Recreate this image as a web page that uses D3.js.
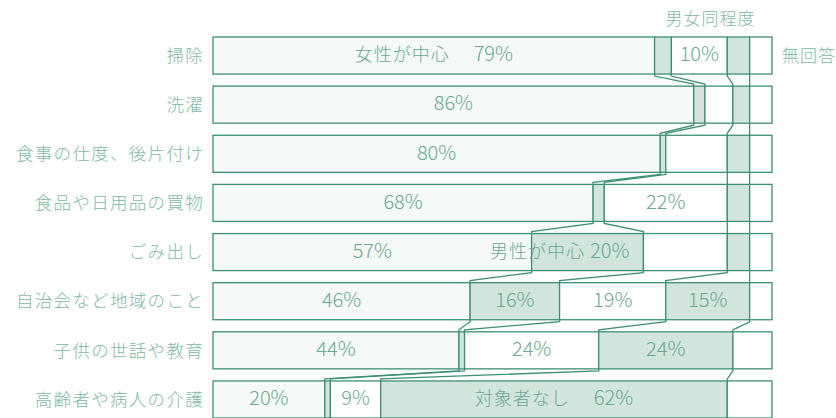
<!DOCTYPE html>
<html>
<head>
<meta charset="utf-8">
<script src="https://cdn.jsdelivr.net/npm/d3@7"></script>
<style>
  body { margin: 0; background: #fff; }
  text { font-family: "Noto Sans CJK JP", "Noto Sans", sans-serif; font-weight: 300; }
</style>
</head>
<body>
<div id="chart"></div>
<script>
// 家事の分担 (%)
var categories = ["掃除", "洗濯", "食事の仕度、後片付け", "食品や日用品の買物",
  "ごみ出し", "自治会など地域のこと", "子供の世話や教育", "高齢者や病人の介護"];
var seriesNames = ["女性が中心", "男性が中心", "男女同程度", "対象者なし", "無回答"];

var female   = [79, 86, 80, 68, 57, 46, 44, 20];
var male     = [3, 2, 1, 2, 20, 16, 1, 1];
var both     = [10, 5, 11, 22, 15, 19, 24, 9];
var none     = [4, 3, 4, 4, 4, 15, 24, 62];
var noAnswer = [4, 4, 4, 4, 4, 4, 7, 8];

// which segments get a printed value, and which carry the series name
// [row, series index, show name]
var shownLabels = [
  [0, 0, true], [0, 2, false],
  [1, 0, false],
  [2, 0, false],
  [3, 0, false], [3, 2, false],
  [4, 0, false], [4, 1, true],
  [5, 0, false], [5, 1, false], [5, 2, false], [5, 3, false],
  [6, 0, false], [6, 2, false], [6, 3, false],
  [7, 0, false], [7, 2, false], [7, 3, true]
];

var width = 836, height = 418;
var lineCol = "#3d8f76";
var textCol = "#6aa794";
var labelCol = "#80b8a8";
var fills = ["#f5f9f7", "#d2e5dd", "#ffffff", "#d2e5dd", "#ffffff"];

var series = [female, male, both, none, noAnswer];
var rows = categories.map(function(c, i) {
  var start = 0;
  var segs = series.map(function(s, k) {
    var seg = { k: k, x0: start, x1: start + s[i], v: s[i] };
    start += s[i];
    return seg;
  });
  return { name: c, i: i, segs: segs };
});

var svg = d3.select("#chart").append("svg")
  .attr("width", width)
  .attr("height", height);

svg.append("rect").attr("width", width).attr("height", height).attr("fill", "#fff");

var x = d3.scaleLinear().domain([0, 100]).range([213, 772]);
var y = d3.scaleBand().domain(categories).range([37, 418]).paddingInner(0.246).paddingOuter(0);
var bh = y.bandwidth();

// connector lines between bars
var links = [];
for (var i = 0; i < rows.length - 1; i++) {
  for (var k = 0; k < 4; k++) {
    links.push({
      xa: x(rows[i].segs[k].x1), ya: y(rows[i].name) + bh,
      xb: x(rows[i + 1].segs[k].x1), yb: y(rows[i + 1].name)
    });
  }
}
svg.append("g").selectAll("path")
  .data(links)
  .enter().append("path")
  .attr("d", function(d) {
    return "M" + d.xa + "," + d.ya + "L" + d.xa + "," + (d.ya + 2) +
      "L" + d.xb + "," + (d.yb - 2) + "L" + d.xb + "," + d.yb;
  })
  .attr("fill", "none")
  .attr("stroke", lineCol)
  .attr("stroke-width", 1.3);

var row = svg.append("g").selectAll("g")
  .data(rows)
  .enter().append("g")
  .attr("transform", function(d) { return "translate(0," + y(d.name) + ")"; });

row.selectAll("rect")
  .data(function(d) { return d.segs; })
  .enter().append("rect")
  .attr("x", function(d) { return x(d.x0); })
  .attr("width", function(d) { return x(d.x1) - x(d.x0); })
  .attr("y", 0)
  .attr("height", bh)
  .attr("fill", function(d) { return fills[d.k]; })
  .attr("stroke", lineCol)
  .attr("stroke-width", 1.3);

// category labels
row.append("text")
  .attr("x", 204)
  .attr("y", bh / 2)
  .attr("dy", "0.36em")
  .attr("text-anchor", "end")
  .attr("fill", labelCol)
  .style("font-size", "17.5px")
  .style("letter-spacing", "1.3px")
  .text(function(d) { return d.name; });

// values inside the bars
var vals = svg.append("g").selectAll("text")
  .data(shownLabels)
  .enter().append("text")
  .attr("y", function(d) { return y(categories[d[0]]) + bh / 2; })
  .attr("dy", "0.36em")
  .attr("fill", textCol)
  .attr("text-anchor", function(d) { return d[0] == 4 && d[1] == 1 ? "end" : "middle"; })
  .attr("x", function(d) {
    var s = rows[d[0]].segs[d[1]];
    if (d[0] == 4 && d[1] == 1) return x(s.x1) - 14;
    return (x(s.x0) + x(s.x1)) / 2;
  });

vals.filter(function(d) { return d[2]; })
  .append("tspan")
  .style("font-size", "18px")
  .style("letter-spacing", "1px")
  .text(function(d) { return seriesNames[d[1]] + (d[0] == 4 ? " " : "　 "); });

vals.append("tspan")
  .style("font-size", "20px")
  .text(function(d) { return series[d[1]][d[0]] + "%"; });

// series names outside the bars
var firstRow = rows[0];
svg.append("text")
  .attr("x", (x(firstRow.segs[1].x1) + x(firstRow.segs[3].x1)) / 2)
  .attr("y", 25)
  .attr("text-anchor", "middle")
  .attr("fill", labelCol)
  .style("font-size", "17px")
  .style("letter-spacing", "1px")
  .text(seriesNames[2]);

svg.append("text")
  .attr("x", x(100) + 10)
  .attr("y", y(categories[0]) + bh / 2)
  .attr("dy", "0.36em")
  .attr("fill", labelCol)
  .style("font-size", "17px")
  .style("letter-spacing", "1px")
  .text(seriesNames[4]);
</script>
</body>
</html>
